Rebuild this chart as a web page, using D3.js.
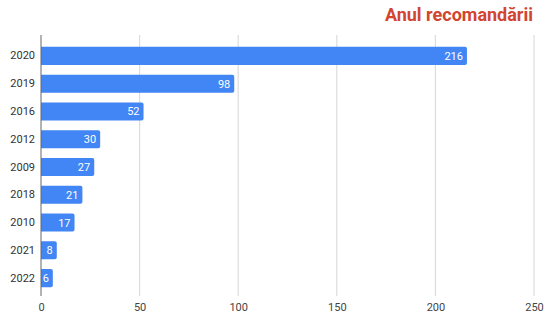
<!DOCTYPE html>
<html><head><meta charset="utf-8">
<script src="https://cdn.jsdelivr.net/npm/d3@7"></script>
<style>body{margin:0;background:#fff;}svg{display:block;font-family:Roboto,Arial,sans-serif;}</style>
</head><body><svg id="c" width="544" height="320"></svg>
<script>
const categories = ["2020","2019","2016","2012","2009","2018","2010","2021","2022"];
const values = [216,98,52,30,27,21,17,8,6];
const xTicks = [0,50,100,150,200,250];
const title = "Anul recomandării";

const svg = d3.select("#c");
const x = d3.scaleLinear().domain([0,250]).range([41,534]);
const y = d3.scaleBand().domain(categories).range([42,292]).paddingInner(0.35).paddingOuter(0.175);

svg.append("g").selectAll("line").data(xTicks.slice(1)).join("line")
  .attr("x1", d=>x(d)).attr("x2", d=>x(d)).attr("y1",35).attr("y2",296)
  .attr("stroke","#dcdcdc").attr("stroke-width",1.2);

const xAxis = d3.axisBottom(x).tickValues(xTicks).tickSize(0).tickPadding(0);
const gx = svg.append("g").attr("transform","translate(0,303)").call(xAxis);
gx.select(".domain").remove();
gx.selectAll("text").attr("font-size",11).attr("fill","#444").attr("font-family","Roboto,Arial,sans-serif");

svg.append("g").selectAll("path").data(values).join("path")
  .attr("fill","#4285f4")
  .attr("d",(d,i)=>{
    const x0=x(0), x1=x(d), y0=y(categories[i]), h=y.bandwidth(), r=2;
    return `M${x0},${y0}H${x1-r}Q${x1},${y0} ${x1},${y0+r}V${y0+h-r}Q${x1},${y0+h} ${x1-r},${y0+h}H${x0}Z`;
  });

svg.append("g").selectAll("text").data(values).join("text")
  .attr("x",d=>x(d)-4).attr("y",(d,i)=>y(categories[i])+y.bandwidth()/2)
  .attr("dy","0.36em").attr("text-anchor","end").attr("font-size",11).attr("fill","#fff")
  .text(d=>d);

const yAxis = d3.axisLeft(y).tickSize(0).tickPadding(6);
const gy = svg.append("g").attr("transform",`translate(${x(0)},0)`).call(yAxis);
gy.select(".domain").remove();
gy.selectAll("text").attr("font-size",11).attr("fill","#333").attr("font-family","Roboto,Arial,sans-serif");

svg.append("line").attr("x1",x(0)).attr("x2",x(0)).attr("y1",35).attr("y2",296)
  .attr("stroke","#666").attr("stroke-width",1);

svg.append("text").attr("x",533).attr("y",21).attr("text-anchor","end")
  .attr("font-size",18).attr("font-weight","bold").attr("fill","#d2452f").text(title);
</script></body></html>
